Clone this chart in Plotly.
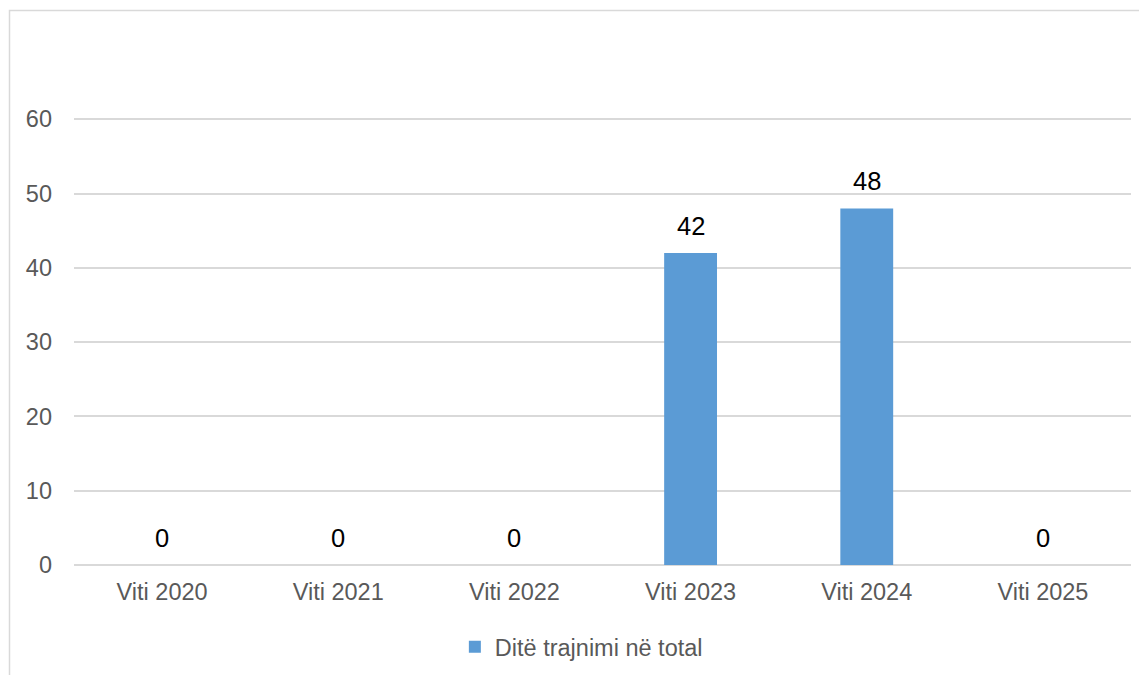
import plotly.graph_objects as go

categories = ["Viti 2020", "Viti 2021", "Viti 2022", "Viti 2023", "Viti 2024", "Viti 2025"]
values = [0, 0, 0, 42, 48, 0]
series_name = "Ditë trajnimi në total"
y_ticks = [0, 10, 20, 30, 40, 50, 60]

FONT = "Liberation Sans, Arial, sans-serif"
BAR_COLOR = "#5B9BD5"
GRID = "#D9D9D9"
TEXT_GREY = "#595959"

# the page body has an 8px margin, so the figure is sized to sit inside it
W, H = 1139, 667
L, T, R, B = 66, 109, 16, 110
plot_w = W - L - R
plot_h = H - T - B
Y_TOP = 60.3  # a hair above 60 so the top gridline is drawn

fig = go.Figure()

fig.add_trace(go.Bar(
    x=categories,
    y=values,
    name=series_name,
    marker=dict(color=BAR_COLOR, line=dict(width=0)),
    showlegend=True,
))

# data labels sitting above each bar
for cat, val in zip(categories, values):
    fig.add_annotation(
        x=cat, y=val, xref="x", yref="y",
        text=str(val), showarrow=False,
        yanchor="middle", yshift=27,
        font=dict(family=FONT, size=25.5, color="#000000"),
    )

# chart area border (left and top edges visible)
fig.add_shape(type="rect", xref="paper", yref="paper",
              x0=(1.5 - L) / plot_w, x1=1.2,
              y0=-0.4, y1=(plot_h + T - 2.5) / plot_h,
              line=dict(color=GRID, width=1.5), fillcolor="rgba(0,0,0,0)",
              layer="below")

fig.update_layout(
    width=W,
    height=H,
    margin=dict(l=L, r=R, t=T, b=B, autoexpand=False),
    paper_bgcolor="white",
    plot_bgcolor="white",
    bargap=0.7,
    font=dict(family=FONT, size=23.5, color=TEXT_GREY),
    showlegend=True,
    legend=dict(
        orientation="h",
        x=0.48, xanchor="center",
        y=-82 / plot_h, yanchor="middle",
        font=dict(family=FONT, size=23.5, color=TEXT_GREY),
        itemwidth=30,
    ),
    xaxis=dict(
        showgrid=False,
        showline=False,
        ticks="",
        ticklabelstandoff=10,
        automargin=False,
        tickfont=dict(family=FONT, size=23.5, color=TEXT_GREY),
    ),
    yaxis=dict(
        range=[0, Y_TOP],
        tickvals=y_ticks,
        showgrid=True,
        gridcolor=GRID,
        gridwidth=1.5,
        zeroline=True,
        zerolinecolor=GRID,
        zerolinewidth=1.5,
        showline=False,
        ticks="",
        ticklabelstandoff=21,
        automargin=False,
        tickfont=dict(family=FONT, size=23.5, color=TEXT_GREY),
    ),
)

fig.write_html("out.html")
